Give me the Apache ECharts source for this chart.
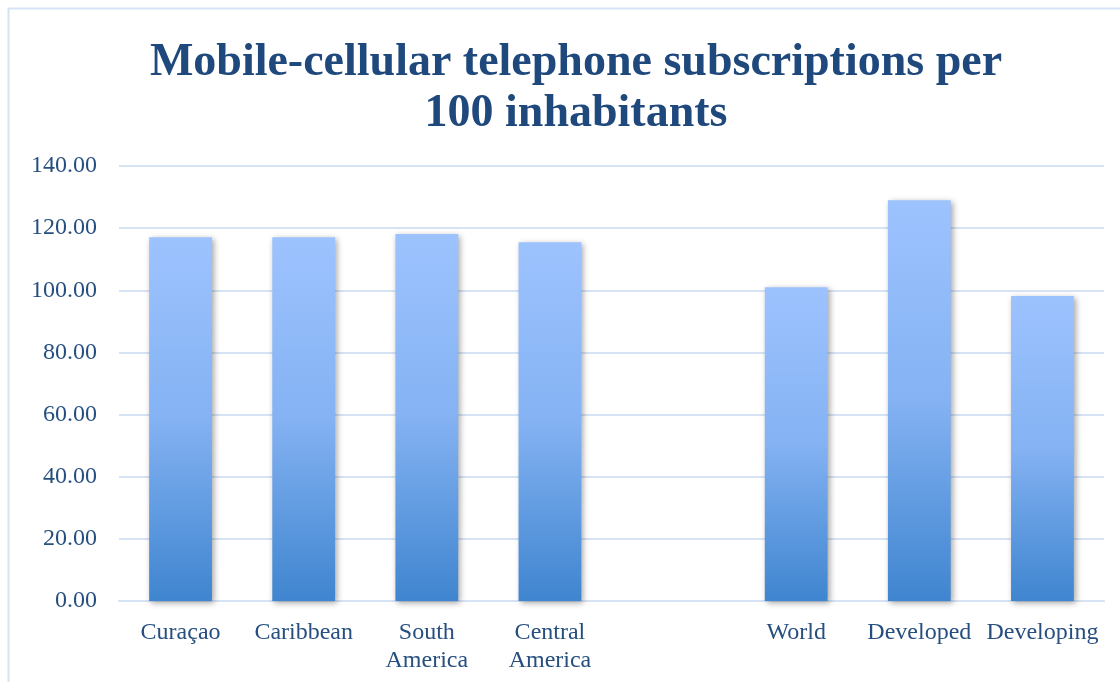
<!DOCTYPE html>
<html><head><meta charset="utf-8">
<script src="https://cdn.jsdelivr.net/npm/echarts@6/dist/echarts.min.js"></script>
<style>html,body{margin:0;padding:0;background:#fff}#c{width:1120px;height:682px}</style>
</head><body><div id="c"></div>
<script>
const titleText = 'Mobile-cellular telephone subscriptions per\n100 inhabitants';
const categories = ['Curaçao', 'Caribbean', 'South\nAmerica', 'Central\nAmerica', '', 'World', 'Developed', 'Developing'];
const values = [117.1, 117.1, 118.1, 115.5, null, 101.0, 129.0, 98.2];
const yTicks = [0, 20, 40, 60, 80, 100, 120, 140];

const textColor = '#264f80';
const chart = echarts.init(document.getElementById('c'));
chart.setOption({
  animation: false,
  graphic: [{type:'rect', shape:{x:8.5,y:8.5,width:1200,height:700}, style:{fill:'none', stroke:'#d6e3f5', lineWidth:2}, silent:true}],
  title: {
    text: titleText, left: 571, top: 33, textAlign: 'center',
    textStyle: {fontFamily: 'Liberation Serif', fontWeight: 'bold', fontSize: 46, color: '#1f497d', lineHeight: 51}
  },
  grid: {left: 119, right: 16, top: 166, bottom: 81, containLabel: false},
  xAxis: {
    type: 'category', data: categories,
    axisLine: {show: true, lineStyle: {color: '#d6e3f5', width: 2}},
    axisTick: {show: false},
    axisLabel: {interval: 0, color: textColor, fontFamily: 'Liberation Serif', fontSize: 24, lineHeight: 28, margin: 18}
  },
  yAxis: {
    type: 'value', min: yTicks[0], max: yTicks[yTicks.length-1], interval: 20,
    axisLine: {show: false}, axisTick: {show: false},
    splitLine: {lineStyle: {color: '#d6e3f5', width: 2}},
    axisLabel: {color: textColor, fontFamily: 'Liberation Serif', fontSize: 24, margin: 22, formatter: v => v.toFixed(2)}
  },
  series: [{
    type: 'bar', data: values, barWidth: '51%',
    itemStyle: {
      color: new echarts.graphic.LinearGradient(0,0,0,1,[{offset:0,color:'#9dc3fe'},{offset:0.5,color:'#84b2f3'},{offset:1,color:'#3f85cf'}]),
      shadowColor: 'rgba(0,0,0,0.35)', shadowBlur: 6, shadowOffsetX: 2, shadowOffsetY: 2
    }
  }]
});
</script></body></html>
